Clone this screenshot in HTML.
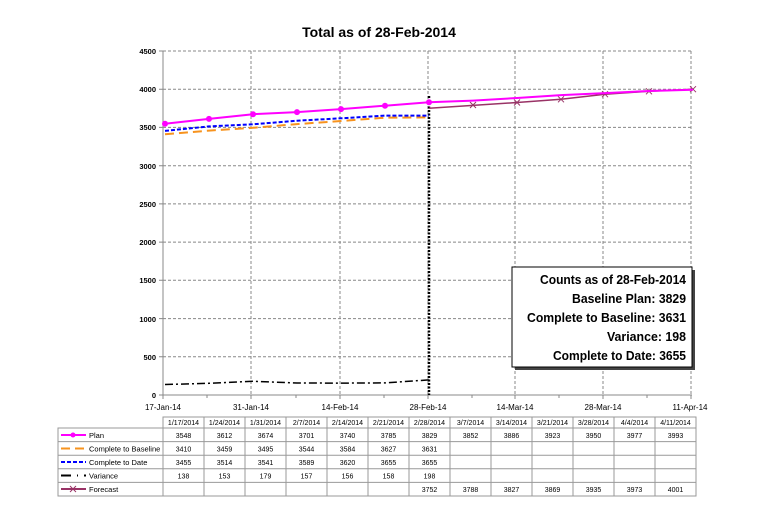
<!DOCTYPE html>
<html><head><meta charset="utf-8"><style>
body{margin:0;background:#fff;width:778px;height:514px;overflow:hidden}
svg{font-family:"Liberation Sans",sans-serif}
</style></head><body>
<svg width="778" height="514" xmlns="http://www.w3.org/2000/svg">
<text x="379" y="37" font-size="14" font-weight="bold" text-anchor="middle">Total as of 28-Feb-2014</text>
<g stroke="#888" stroke-dasharray="3,2" stroke-width="1">
<line x1="163" x2="692" y1="51" y2="51"/><line x1="163" x2="692" y1="89.2" y2="89.2"/><line x1="163" x2="692" y1="127.4" y2="127.4"/><line x1="163" x2="692" y1="165.7" y2="165.7"/><line x1="163" x2="692" y1="203.9" y2="203.9"/><line x1="163" x2="692" y1="242.1" y2="242.1"/><line x1="163" x2="692" y1="280.3" y2="280.3"/><line x1="163" x2="692" y1="318.6" y2="318.6"/><line x1="163" x2="692" y1="356.8" y2="356.8"/>
<line x1="251" x2="251" y1="51" y2="395"/><line x1="340" x2="340" y1="51" y2="395"/><line x1="428" x2="428" y1="51" y2="395"/><line x1="515" x2="515" y1="51" y2="395"/><line x1="603" x2="603" y1="51" y2="395"/><line x1="691" x2="691" y1="51" y2="395"/>
</g>
<g stroke="#888" stroke-width="1"><line x1="163" y1="51" x2="163" y2="395"/><line x1="163" y1="395" x2="692" y2="395"/>
<path d="M159 51h4M159 89.2h4M159 127.4h4M159 165.7h4M159 203.9h4M159 242.1h4M159 280.3h4M159 318.6h4M159 356.8h4M159 395h4M163 395v4M207 395v3M251 395v4M296 395v3M340 395v4M384 395v3M428 395v4M472 395v3M515 395v4M559 395v3M603 395v4M647 395v3M691 395v4"/></g>
<g font-size="7.5" text-anchor="end" font-weight="bold">
<text x="156" y="54">4500</text><text x="156" y="92">4000</text><text x="156" y="130">3500</text><text x="156" y="169">3000</text><text x="156" y="207">2500</text><text x="156" y="245">2000</text><text x="156" y="283">1500</text><text x="156" y="322">1000</text><text x="156" y="360">500</text><text x="156" y="398">0</text>
</g>
<g font-size="8" text-anchor="middle">
<text x="163" y="410">17-Jan-14</text><text x="251" y="410">31-Jan-14</text><text x="340" y="410">14-Feb-14</text><text x="428" y="410">28-Feb-14</text><text x="515" y="410">14-Mar-14</text><text x="603" y="410">28-Mar-14</text><text x="690" y="410">11-Apr-14</text>
</g>
<line x1="429" y1="96" x2="429" y2="395" stroke="#000" stroke-width="2.5" stroke-dasharray="2,1.5"/>
<polyline fill="none" stroke="#f7931e" stroke-width="2" stroke-dasharray="9,5" points="165,134.3 209,130.6 253,127.8 297,124.1 341,121 385,117.7 429,117.4"/>
<polyline fill="none" stroke="#00f" stroke-width="2" stroke-dasharray="4,2" points="165,130.9 209,126.4 253,124.3 297,120.7 341,118.3 385,115.6 429,115.6"/>
<polyline fill="none" stroke="#000" stroke-width="1.5" stroke-dasharray="8,3,2,3" points="165,384.5 209,383.3 253,381.3 297,383 341,383.1 385,382.9 429,379.9"/>
<polyline fill="none" stroke="#993366" stroke-width="1.5" points="429,108.2 473,105.4 517,102.5 561,99.3 605,94.2 649,91.3 693,89.2"/>
<g stroke="#993366" stroke-width="1"><path d="M470 102l6 6M476 102l-6 6M514 99.5l6 6M520 99.5l-6 6M558 96.3l6 6M564 96.3l-6 6M602 91.2l6 6M608 91.2l-6 6M646 88.3l6 6M652 88.3l-6 6M690 86.2l6 6M696 86.2l-6 6"/></g>
<polyline fill="none" stroke="#ff00ff" stroke-width="2" points="165,123.8 209,118.9 253,114.2 297,112.1 341,109.1 385,105.7 429,102.3 473,100.6 517,98 561,95.1 605,93.1 649,91 693,89.8"/>
<g fill="#ff00ff"><circle cx="165" cy="123.8" r="3"/><circle cx="209" cy="118.9" r="3"/><circle cx="253" cy="114.2" r="3"/><circle cx="297" cy="112.1" r="3"/><circle cx="341" cy="109.1" r="3"/><circle cx="385" cy="105.7" r="3"/><circle cx="429" cy="102.3" r="3"/></g>
<rect x="515" y="270" width="180" height="100" fill="#444"/>
<rect x="512" y="267" width="180" height="100" fill="#fff" stroke="#000" stroke-width="1"/>
<g font-size="13" font-weight="bold" text-anchor="end">
<text x="686" y="284" textLength="146" lengthAdjust="spacingAndGlyphs">Counts as of 28-Feb-2014</text><text x="686" y="303" textLength="114" lengthAdjust="spacingAndGlyphs">Baseline Plan: 3829</text><text x="686" y="322" textLength="159" lengthAdjust="spacingAndGlyphs">Complete to Baseline: 3631</text><text x="686" y="341" textLength="79" lengthAdjust="spacingAndGlyphs">Variance: 198</text><text x="686" y="360" textLength="133" lengthAdjust="spacingAndGlyphs">Complete to Date: 3655</text>
</g>
<g stroke="#999" stroke-width="1" fill="none">
<rect x="163" y="417" width="533" height="79"/>
<rect x="58" y="428" width="638" height="68"/>
<path d="M58 441.6h638M58 455.2h638M58 468.8h638M58 482.4h638"/>
<path d="M163 417v79M204 417v79M245 417v79M286 417v79M327 417v79M368 417v79M409 417v79M450 417v79M491 417v79M532 417v79M573 417v79M614 417v79M655 417v79"/>
</g>
<g font-size="7" text-anchor="middle">
<text y="425"><tspan x="183.5">1/17/2014</tspan><tspan x="224.5">1/24/2014</tspan><tspan x="265.5">1/31/2014</tspan><tspan x="306.5">2/7/2014</tspan><tspan x="347.5">2/14/2014</tspan><tspan x="388.5">2/21/2014</tspan><tspan x="429.5">2/28/2014</tspan><tspan x="470.5">3/7/2014</tspan><tspan x="511.5">3/14/2014</tspan><tspan x="552.5">3/21/2014</tspan><tspan x="593.5">3/28/2014</tspan><tspan x="634.5">4/4/2014</tspan><tspan x="675.5">4/11/2014</tspan></text>
<text y="438"><tspan x="183.5">3548</tspan><tspan x="224.5">3612</tspan><tspan x="265.5">3674</tspan><tspan x="306.5">3701</tspan><tspan x="347.5">3740</tspan><tspan x="388.5">3785</tspan><tspan x="429.5">3829</tspan><tspan x="470.5">3852</tspan><tspan x="511.5">3886</tspan><tspan x="552.5">3923</tspan><tspan x="593.5">3950</tspan><tspan x="634.5">3977</tspan><tspan x="675.5">3993</tspan></text>
<text y="451.5"><tspan x="183.5">3410</tspan><tspan x="224.5">3459</tspan><tspan x="265.5">3495</tspan><tspan x="306.5">3544</tspan><tspan x="347.5">3584</tspan><tspan x="388.5">3627</tspan><tspan x="429.5">3631</tspan></text>
<text y="465"><tspan x="183.5">3455</tspan><tspan x="224.5">3514</tspan><tspan x="265.5">3541</tspan><tspan x="306.5">3589</tspan><tspan x="347.5">3620</tspan><tspan x="388.5">3655</tspan><tspan x="429.5">3655</tspan></text>
<text y="478.5"><tspan x="183.5">138</tspan><tspan x="224.5">153</tspan><tspan x="265.5">179</tspan><tspan x="306.5">157</tspan><tspan x="347.5">156</tspan><tspan x="388.5">158</tspan><tspan x="429.5">198</tspan></text>
<text y="492"><tspan x="429.5">3752</tspan><tspan x="470.5">3788</tspan><tspan x="511.5">3827</tspan><tspan x="552.5">3869</tspan><tspan x="593.5">3935</tspan><tspan x="634.5">3973</tspan><tspan x="675.5">4001</tspan></text>
</g>
<g font-size="7.5">
<text x="89" y="438">Plan</text><text x="89" y="451.5">Complete to Baseline</text><text x="89" y="465">Complete to Date</text><text x="89" y="478.5">Variance</text><text x="89" y="492">Forecast</text>
</g>
<line x1="61" y1="435" x2="86" y2="435" stroke="#ff00ff" stroke-width="2"/><circle cx="73" cy="435" r="2.5" fill="#ff00ff"/>
<line x1="61" y1="448.5" x2="86" y2="448.5" stroke="#f7931e" stroke-width="2" stroke-dasharray="9,5"/>
<line x1="61" y1="462" x2="86" y2="462" stroke="#00f" stroke-width="2" stroke-dasharray="4,2"/>
<line x1="61" y1="475.5" x2="86" y2="475.5" stroke="#000" stroke-width="2" stroke-dasharray="10,6,1,6"/>
<line x1="61" y1="489" x2="86" y2="489" stroke="#993366" stroke-width="2"/><path d="M70 486l6 6M76 486l-6 6" stroke="#993366"/>
</svg>
</body></html>
